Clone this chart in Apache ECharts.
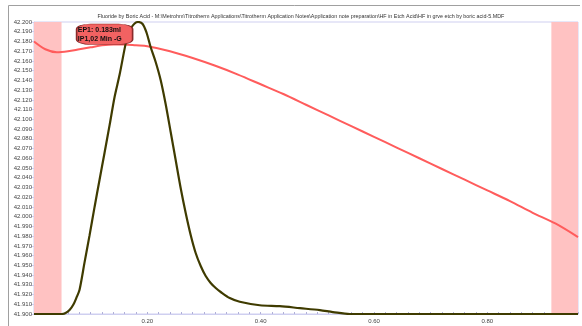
<!DOCTYPE html>
<html><head><meta charset="utf-8">
<script src="https://cdn.jsdelivr.net/npm/echarts@6/dist/echarts.min.js"></script>
<style>html,body{margin:0;padding:0;background:#fff}#c{width:582px;height:326px}</style>
</head><body><div id="c"></div>
<script>
var titleText = 'Fluoride by Boric Acid - M:\\Metrohm\\Titrotherm Applications\\Titrotherm Application Notes\\Application note preparation\\HF in Etch Acid\\HF in grve etch by boric acid-5.MDF';
var noteText = 'EP1: 0.183ml\nIP1,02 Min -G';
var noteAt = [0.1246, 42.1874];
var bands = [[0, 0.0486], [0.913, 0.96]];
var xRange = [0, 0.96];
var yRange = [41.9, 42.2];

var tempX = [0,0.02,0.04,0.06,0.08,0.10,0.12,0.14,0.16,0.18,0.20,0.24,0.28,0.32,0.36,0.40,0.44,0.48,0.52,0.56,0.60,0.64,0.68,0.72,0.76,0.80,0.84,0.88,0.92,0.96];
var tempY = [42.180,42.172,42.169,42.170,42.172,42.174,42.176,42.177,42.177,42.176,42.175,42.170,42.163,42.155,42.146,42.136,42.126,42.115,42.104,42.093,42.082,42.071,42.060,42.049,42.038,42.027,42.016,42.004,41.993,41.979];

var derivX = [0,0.0486,0.0557,0.0627,0.0698,0.0751,0.0804,0.0892,0.0981,0.1069,0.1157,0.1246,0.1334,0.1422,0.1511,0.1611,0.1652,0.1714,0.1776,0.1837,0.1917,0.1988,0.2058,0.2147,0.2235,0.2323,0.2412,0.2500,0.2588,0.2677,0.2765,0.2853,0.2942,0.3030,0.3118,0.3207,0.3295,0.3454,0.3631,0.3984,0.4337,0.4691,0.5044,0.5274,0.5574,0.5928,0.96];
var derivY = [41.900,41.900,41.901,41.904,41.910,41.917,41.925,41.953,41.981,42.010,42.038,42.066,42.094,42.123,42.146,42.176,42.1856,42.1938,42.1985,42.200,42.1979,42.1887,42.1743,42.1589,42.1404,42.1158,42.0870,42.0582,42.0295,42.0038,41.9812,41.9627,41.9493,41.9390,41.9319,41.9267,41.9226,41.9164,41.9126,41.909,41.908,41.906,41.904,41.902,41.900,41.900,41.900];

function pairs(xs, ys){ return xs.map(function(x,i){ return [x, ys[i]]; }); }
var lav = '#cfcff0';
var chart = echarts.init(document.getElementById('c'), null, {renderer:'canvas'});
chart.setOption({
  animation: false,
  title: { text: titleText, left: 296, top: 9, textAlign: 'center',
    textStyle: { fontSize: 5.4, fontWeight: 'normal', color: '#333', fontFamily: 'Liberation Sans' } },
  graphic: [{ type: 'polyline', shape: { points: [[8.5, 326], [8.5, 5.5], [580, 5.5]] },
    style: { stroke: '#a0a0a0', lineWidth: 1, fill: null } }],
  grid: { left: 34, top: 22, right: 4, bottom: 12, show: true, borderColor: lav, borderWidth: 1 },
  xAxis: { type: 'value', min: xRange[0], max: xRange[1], interval: 0.02,
    axisLine: { lineStyle: { color: lav } },
    axisTick: { inside: true, length: 2, lineStyle: { color: '#b0b0d8' } },
    splitLine: { show: false },
    axisLabel: { fontSize: 6, color: '#444', fontFamily: 'Liberation Sans', margin: 4,
      formatter: function(v){ var k = v / 0.2; return (v > 0.001 && Math.abs(k - Math.round(k)) < 1e-6) ? v.toFixed(2) : ''; } } },
  yAxis: { type: 'value', min: yRange[0], max: yRange[1], interval: 0.01,
    axisLine: { show: true, lineStyle: { color: lav } },
    axisTick: { show: true, length: 3, lineStyle: { color: lav } },
    splitLine: { show: false },
    axisLabel: { fontSize: 6, color: '#444', fontFamily: 'Liberation Sans', margin: 2,
      formatter: function(v){ return v.toFixed(3); } } },
  series: [
    { type: 'line', data: pairs(tempX, tempY), showSymbol: false, smooth: 0.3,
      lineStyle: { color: '#ff5c5c', width: 2 }, z: 2,
      markArea: { silent: true, itemStyle: { color: '#ffc2c2', opacity: 1 },
        data: bands.map(function(b){ return [{ xAxis: b[0] }, { xAxis: b[1] }]; }) } },
    { type: 'line', data: pairs(derivX, derivY), showSymbol: false, smooth: 0.3,
      lineStyle: { color: '#3f3b00', width: 2.2 }, z: 3,
      markPoint: { silent: true, symbol: 'roundRect', symbolSize: [56, 20.5],
        itemStyle: { color: '#f26262', borderColor: '#8a2a2a', borderWidth: 1 },
        label: { show: true, position: [2, 2], align: 'left', verticalAlign: 'top',
          formatter: noteText, fontSize: 7, lineHeight: 9, fontWeight: 'bold', color: '#111', fontFamily: 'Liberation Sans' },
        data: [{ coord: noteAt }] } }
  ]
});
</script></body></html>
